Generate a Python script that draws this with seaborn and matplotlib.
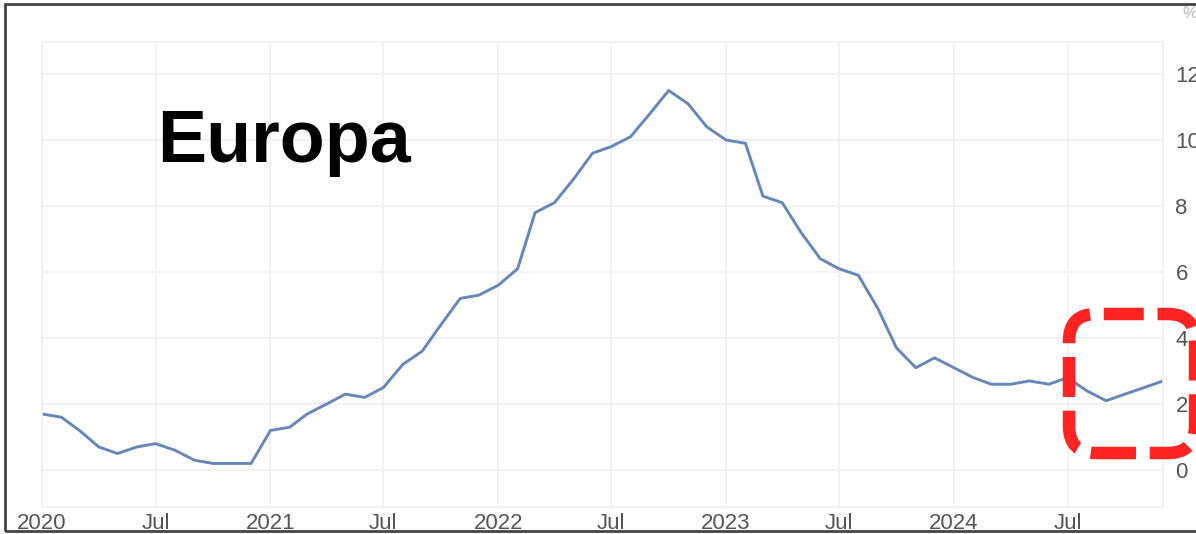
import numpy as np
import pandas as pd
import matplotlib
matplotlib.use("Agg")
import matplotlib.pyplot as plt
import matplotlib.transforms as mtrans
from matplotlib.patches import FancyBboxPatch, Rectangle
import seaborn as sns

# monthly inflation, Jan 2020 - Dec 2024 (%)
months = pd.date_range("2020-01-01", "2024-12-01", freq="MS")
inflation = [1.7, 1.6, 1.2, 0.7, 0.5, 0.7, 0.8, 0.6, 0.3, 0.2, 0.2, 0.2,
             1.2, 1.3, 1.7, 2.0, 2.3, 2.2, 2.5, 3.2, 3.6, 4.4, 5.2, 5.3,
             5.6, 6.1, 7.8, 8.1, 8.8, 9.6, 9.8, 10.1, 10.8, 11.5, 11.1, 10.4,
             10.0, 9.9, 8.3, 8.1, 7.2, 6.4, 6.1, 5.9, 4.9, 3.7, 3.1, 3.4,
             3.1, 2.8, 2.6, 2.6, 2.7, 2.6, 2.8, 2.4, 2.1, 2.3, 2.5, 2.7]
tick_dates = pd.date_range("2020-01-01", "2024-07-01", freq="6MS")
tick_labels = ["2020", "Jul", "2021", "Jul", "2022", "Jul", "2023", "Jul", "2024", "Jul"]
y_ticks = [0, 2, 4, 6, 8, 10, 12]

df = pd.DataFrame({"month": months, "value": inflation})

sns.set_style("white")
plt.rcParams["font.family"] = ["Liberation Sans", "DejaVu Sans"]

W, H = 1196, 534
fig = plt.figure(figsize=(W / 100, H / 100), dpi=100)
ax = fig.add_axes([42 / W, (H - 507) / H, (1163 - 42) / W, (507 - 42) / H])

sns.lineplot(data=df, x="month", y="value", ax=ax, color="#6787b8", linewidth=2.1)
for ln in ax.lines:
    ln.set_solid_joinstyle("round")

ax.set_xlim(months[0], months[-1])
ax.set_ylim(-1.12, 12.97)
ax.set_xticks(tick_dates)
ax.set_xticklabels(tick_labels)
ax.set_yticks(y_ticks)
ax.yaxis.tick_right()
ax.tick_params(axis="both", length=0, labelsize=16, colors="#555555")
ax.tick_params(axis="y", pad=9)
ax.tick_params(axis="x", pad=4)
ax.set_xlabel("")
ax.set_ylabel("")
ax.grid(True, color="#f0f0f0", linewidth=1.2)
for sp in ax.spines.values():
    sp.set_color("#f0f0f0")
    sp.set_linewidth(1.2)

fig.text(157 / W, (H - 162) / H, "Europa", fontsize=53, fontweight="bold",
         color="black", va="baseline", ha="left")
fig.text(1182 / W, (H - 18) / H, "%", fontsize=12, color="#bbbbbb", ha="left")

# outer frame
fig.add_artist(Rectangle((5 / W, 3 / H), 1.2, (H - 7) / H, transform=fig.transFigure,
                         fill=False, edgecolor="#444444", linewidth=2, clip_on=False))

# red dashed highlight box
px = mtrans.IdentityTransform()
box = FancyBboxPatch((1069, H - 453), 126, 139,
                     boxstyle="round,pad=0,rounding_size=27", transform=px,
                     fill=False, edgecolor="#ff2424", linewidth=9,
                     linestyle=(0, (3.2, 1.1)), clip_on=False)
box.set_capstyle("butt")
fig.add_artist(box)

fig.savefig("out.png", dpi=100)
